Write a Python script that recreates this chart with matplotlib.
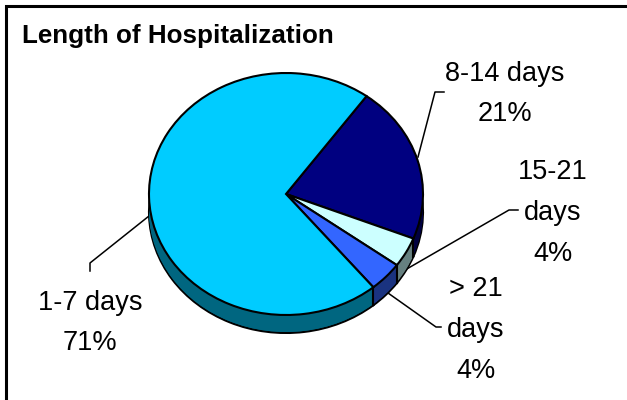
import numpy as np
import matplotlib
matplotlib.use('Agg')
import matplotlib.pyplot as plt

plt.rcParams['font.family'] = ['Liberation Sans', 'DejaVu Sans']

labels = ['8-14 days\n21%', '15-21\ndays\n4%', '> 21\ndays\n4%', '1-7 days\n71%']
values = [21, 4, 4, 71]
top_colors = ['#000080', '#CCFFFF', '#3366FF', '#00CCFF']
side_colors = ['#000040', '#668080', '#1A3380', '#006680']
title = 'Length of Hospitalization'

W, H = 627, 400
start = 54
depth = 18 / 121

fig = plt.figure(figsize=(W / 100, H / 100), dpi=100)

# background axes in pixel coordinates for the frame, leaders and text
bg = fig.add_axes([0, 0, 1, 1])
bg.set_xlim(0, W)
bg.set_ylim(H, 0)
bg.axis('off')
bg.plot([6, 6, W], [H, 6, 6], color='black', lw=2.2, solid_capstyle='butt', solid_joinstyle='miter')

bg.text(22, 43, title, fontsize=18.7, fontweight='bold', ha='left', va='baseline')

# leaders
leaders = [
    ([418, 157, 435, 92, 444, 92]),
    ([405, 270, 509, 210, 518, 210]),
    ([388, 293, 436, 327, 441, 327]),
    ([149, 216, 90, 263, 90, 271]),
]
for l in leaders:
    bg.plot(l[0::2], l[1::2], color='black', lw=1.1)

bg.text(505, 94, labels[0], fontsize=19.5, ha='center', va='center', linespacing=1.74)
bg.text(553, 213, labels[1], fontsize=19.5, ha='center', va='center', linespacing=1.74)
bg.text(476, 330, labels[2], fontsize=19.5, ha='center', va='center', linespacing=1.74)
bg.text(90, 323, labels[3], fontsize=19.5, ha='center', va='center', linespacing=1.74)

# the pie itself: axes stretched to the ellipse
ax = fig.add_axes([149 / W, (H - 315) / H, 274 / W, 242 / H])
for d in np.linspace(depth, 0, 19)[:-1]:
    edge = 'black' if d == depth else 'none'
    ax.pie(values, colors=side_colors, startangle=start, counterclock=False, center=(0, -d), radius=1,
           wedgeprops=dict(edgecolor=edge, linewidth=1.5, clip_on=False), frame=True)
ax.pie(values, colors=top_colors, startangle=start, counterclock=False, radius=1,
       wedgeprops=dict(edgecolor='black', linewidth=1.5, clip_on=False), frame=True)
ax.set_aspect('auto')
ax.set_xlim(-1, 1)
ax.set_ylim(-1, 1)
ax.axis('off')

# vertical seams on the visible side
total = sum(values)
ang = start
for v in values[:3]:
    ang -= 360 * v / total
    x = np.cos(np.radians(ang))
    y = np.sin(np.radians(ang))
    ax.plot([x, x], [y, y - depth], color='black', lw=1.5, clip_on=False)

fig.savefig('out.png', dpi=100)
